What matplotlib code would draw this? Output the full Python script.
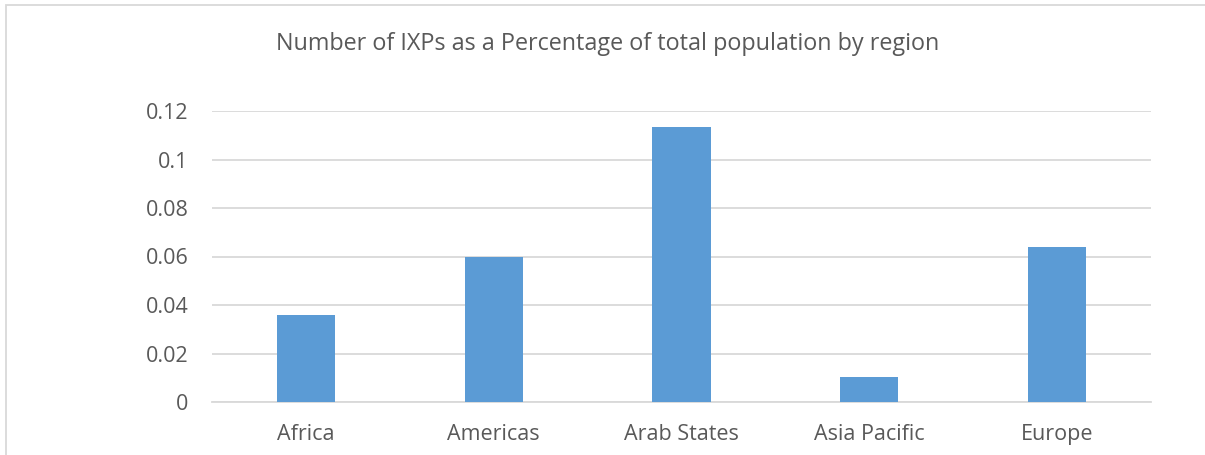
import matplotlib
matplotlib.use("Agg")
import matplotlib.pyplot as plt
from matplotlib.patches import Rectangle

regions = ["Africa", "Americas", "Arab States", "Asia Pacific", "Europe"]
ixp_share = [0.0359, 0.0598, 0.1135, 0.0102, 0.0639]
yticks = [0, 0.02, 0.04, 0.06, 0.08, 0.1, 0.12]
ytick_labels = ["0", "0.02", "0.04", "0.06", "0.08", "0.1", "0.12"]

W, H = 1205, 455
fig = plt.figure(figsize=(W / 100, H / 100), dpi=100)
plt.rcParams["font.family"] = ["Open Sans", "DejaVu Sans"]
text_color = "#595959"
grid_color = "#d9d9d9"

# outer chart frame
fig.add_artist(Rectangle((6 / W, -0.05), 1.2, 1 - 5 / H + 0.05,
                         transform=fig.transFigure, fill=False,
                         edgecolor="#d9d9d9", linewidth=1.3))

ax = fig.add_axes([212 / W, 1 - 402 / H, (1151 - 212) / W, (402 - 111) / H])
x = range(len(regions))
ax.bar(x, ixp_share, width=0.31, color="#5b9bd5", zorder=3)
ax.set_xlim(-0.5, len(regions) - 0.5)
ax.set_ylim(0, 0.12)
ax.set_yticks(yticks)
ax.set_yticklabels(ytick_labels)
ax.set_xticks(list(x))
ax.set_xticklabels(regions)
ax.yaxis.grid(True, color=grid_color, linewidth=1.3, zorder=0)
ax.set_axisbelow(True)
for s in ["top", "right", "left"]:
    ax.spines[s].set_visible(False)
ax.spines["bottom"].set_color(grid_color)
ax.spines["bottom"].set_linewidth(1.3)
ax.tick_params(axis="both", length=0, labelsize=15.5, labelcolor=text_color)
ax.tick_params(axis="y", pad=17)
ax.tick_params(axis="x", pad=16)

fig.text(608 / W, 1 - 44 / H,
         "Number of IXPs as a Percentage of total population by region",
         ha="center", va="center", fontsize=16.8, color=text_color)

fig.savefig("out.png", dpi=100, facecolor="white")
